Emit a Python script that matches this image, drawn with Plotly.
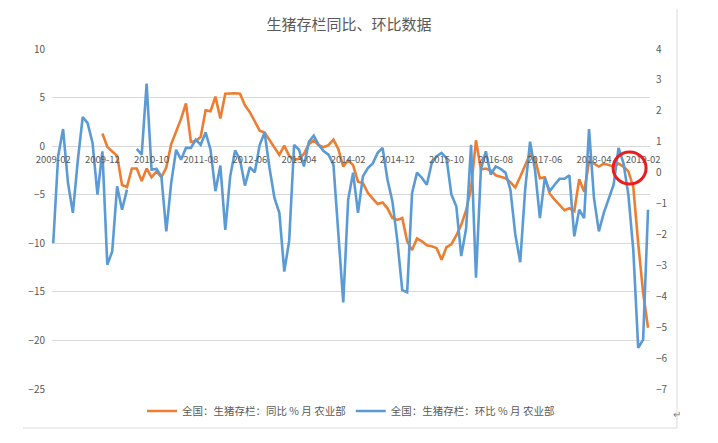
import pandas as pd
import plotly.graph_objects as go

months = [d.strftime("%Y-%m") for d in pd.date_range("2009-02-01", "2019-03-01", freq="MS")]

# 全国：生猪存栏：环比 (right axis)
mom = [-2.28, 0.53, 1.41, -0.33, -1.3, 0.4, 1.8, 1.6, 0.96, -0.71,
       0.69, -2.98, -2.55, -0.44, -1.2, -0.55, None, 0.77, 0.58, 2.88,
       0.1, 0.12, -0.12, -1.9, -0.33, 0.74, 0.42, 0.8, 0.8, 1.07,
       0.9, 1.3, 0.74, -0.6, 0.23, -1.85, -0.12, 0.72, 0.42, -0.42,
       0.18, 0.01, 0.9, 1.3, 0.15, -0.82, -1.3, -3.2, -2.2, 0.9,
       0.74, 0.2, 1.0, 1.2, 0.9, 0.7, 0.58, 0.26, -2.06, -4.2,
       -0.87, 0.0, -1.3, -0.12, 0.15, 0.3, 0.64, 0.8, -0.23, -0.93,
       -2.2, -3.8, -3.87, -0.66, 0.0, -0.17, -0.39, 0.31, 0.53, 0.64,
       0.47, -0.71, -1.09, -2.7, -1.8, 0.9, -3.4, 0.1, 0.69, -0.06,
       0.2, 0.12, 0.0, -0.55, -2.0, -2.9, -0.55, 1.0, 0.1, -1.47,
       -0.17, -0.6, -0.39, -0.2, -0.2, -0.09, -2.06, -1.2, -1.47, 1.41,
       -0.82, -1.9, -1.3, -0.87, -0.39, 0.8, 0.31, -0.71, -2.5, -5.67,
       -5.4, -1.2]

# 全国：生猪存栏：同比 (left axis)
yoy = [None] * 10 + [
       1.3, -0.07, -0.55, -1.0, -4.0, -4.2, -2.3, -2.3, -3.6, -2.3,
       -3.2, -2.6, -3.2, -2.2, 0.2, 1.5, 2.8, 4.4, 0.45, 0.5,
       0.96, 3.7, 3.6, 5.1, 2.85, 5.4, 5.45, 5.45, 5.4, 4.2,
       3.5, 2.5, 1.6, 1.4, 0.6, -0.2, -0.9, 0.05, -1.0, -1.4,
       -1.3, -0.8, 0.2, 0.6, 0.1, -0.1, 0.1, 0.68, -0.3, -2.1,
       -1.44, -1.95, -3.66, -3.8, -4.8, -5.4, -5.96, -5.8, -6.4, -7.4,
       -7.6, -7.4, -9.8, -10.7, -9.5, -9.8, -10.2, -10.3, -10.5, -11.7,
       -10.4, -10.1, -9.2, -8.1, -6.6, -4.35, 0.6, -2.4, -2.3, -2.5,
       -3.0, -3.15, -3.3, -3.7, -4.25, -3.15, -2.0, -0.8, -1.3, -3.3,
       -3.2, -4.9, -5.5, -6.1, -6.6, -6.4, -6.7, -3.4, -4.7, -1.6,
       -1.8, -2.1, -1.8, -1.95, -2.1, -1.8, -2.1, -2.6, -4.2, -10.0,
       -15.1, -18.7]

tick_labels = months[::10]
left_ticks = [10, 5, 0, -5, -10, -15, -20, -25]
right_ticks = [4, 3, 2, 1, 0, -1, -2, -3, -4, -5, -6, -7]

name_yoy = "全国：生猪存栏：同比 % 月 农业部"
name_mom = "全国：生猪存栏：环比 % 月 农业部"

FONT = "Noto Sans CJK SC"
GREY = "#595959"

fig = go.Figure()
fig.add_trace(go.Scatter(x=months, y=yoy, name=name_yoy, mode="lines",
                         line=dict(color="#ED7D31", width=2.6), yaxis="y"))
fig.add_trace(go.Scatter(x=months, y=mom, name=name_mom, mode="lines",
                         line=dict(color="#5B9BD5", width=2.6), yaxis="y2"))

OFF = 8  # page body margin
W, H = 718 - OFF, 443 - OFF
L, T = 52 - OFF, 49 - OFF
PW, PH = 598, 340
R, B = W - L - PW, H - T - PH
fig.update_layout(
    width=W, height=H,
    margin=dict(l=L, r=R, t=T, b=B, autoexpand=False),
    paper_bgcolor="white", plot_bgcolor="white",
    font=dict(family=FONT, color=GREY, size=10),
    title=dict(text="生猪存栏同比、环比数据", x=(349 - OFF) / W, xanchor="center",
               y=1 - (25 - OFF) / H, yanchor="middle",
               font=dict(family=FONT, size=15, color=GREY)),
    xaxis=dict(type="category", range=[-0.25, 121.4],
               tickvals=tick_labels, ticktext=tick_labels,
               showgrid=False, zeroline=False, showline=False,
               ticks="outside", ticklen=4, tickcolor="rgba(0,0,0,0)",
               anchor="free", position=25 / 35, automargin=False,
               tickfont=dict(size=9.5, color=GREY)),
    yaxis=dict(range=[-25, 10], tickvals=left_ticks, showgrid=True,
               gridcolor="#D9D9D9", gridwidth=1, zeroline=False,
               showline=False, ticks="", ticklabelstandoff=6, automargin=False,
               tickfont=dict(size=10, color=GREY)),
    yaxis2=dict(range=[-7, 4], tickvals=right_ticks, overlaying="y",
                side="right", showgrid=False, zeroline=False,
                showline=False, ticks="", ticklabelstandoff=5, automargin=False,
                tickfont=dict(size=10, color=GREY)),
    legend=dict(orientation="h", x=0.5, xanchor="center",
                y=(389 - 411) / PH, yanchor="middle",
                font=dict(size=10.5, color=GREY), bgcolor="rgba(0,0,0,0)"),
    showlegend=True,
)

def px(xp):
    return (xp - OFF - L) / PW
def py(yp):
    return (T + PH - (yp - OFF)) / PH

# red highlight circle around the latest turn
fig.add_shape(type="circle", xref="x", yref="y",
              x0=113.9, x1=120.6, y0=-3.9, y1=-0.6,
              line=dict(color="#E81E1E", width=3))
# chart-area border lines (document frame)
fig.add_shape(type="line", xref="paper", yref="paper",
              x0=px(677), x1=px(677), y0=py(9), y1=py(428),
              line=dict(color="#D9D9D9", width=1))
fig.add_shape(type="line", xref="paper", yref="paper",
              x0=px(23), x1=px(677), y0=py(428), y1=py(428),
              line=dict(color="#D9D9D9", width=1))
fig.add_annotation(text="↵", xref="paper", yref="paper", x=px(683), y=py(423),
                   showarrow=False, font=dict(size=10, color="#7F7F7F"))

fig.write_html("out.html")
